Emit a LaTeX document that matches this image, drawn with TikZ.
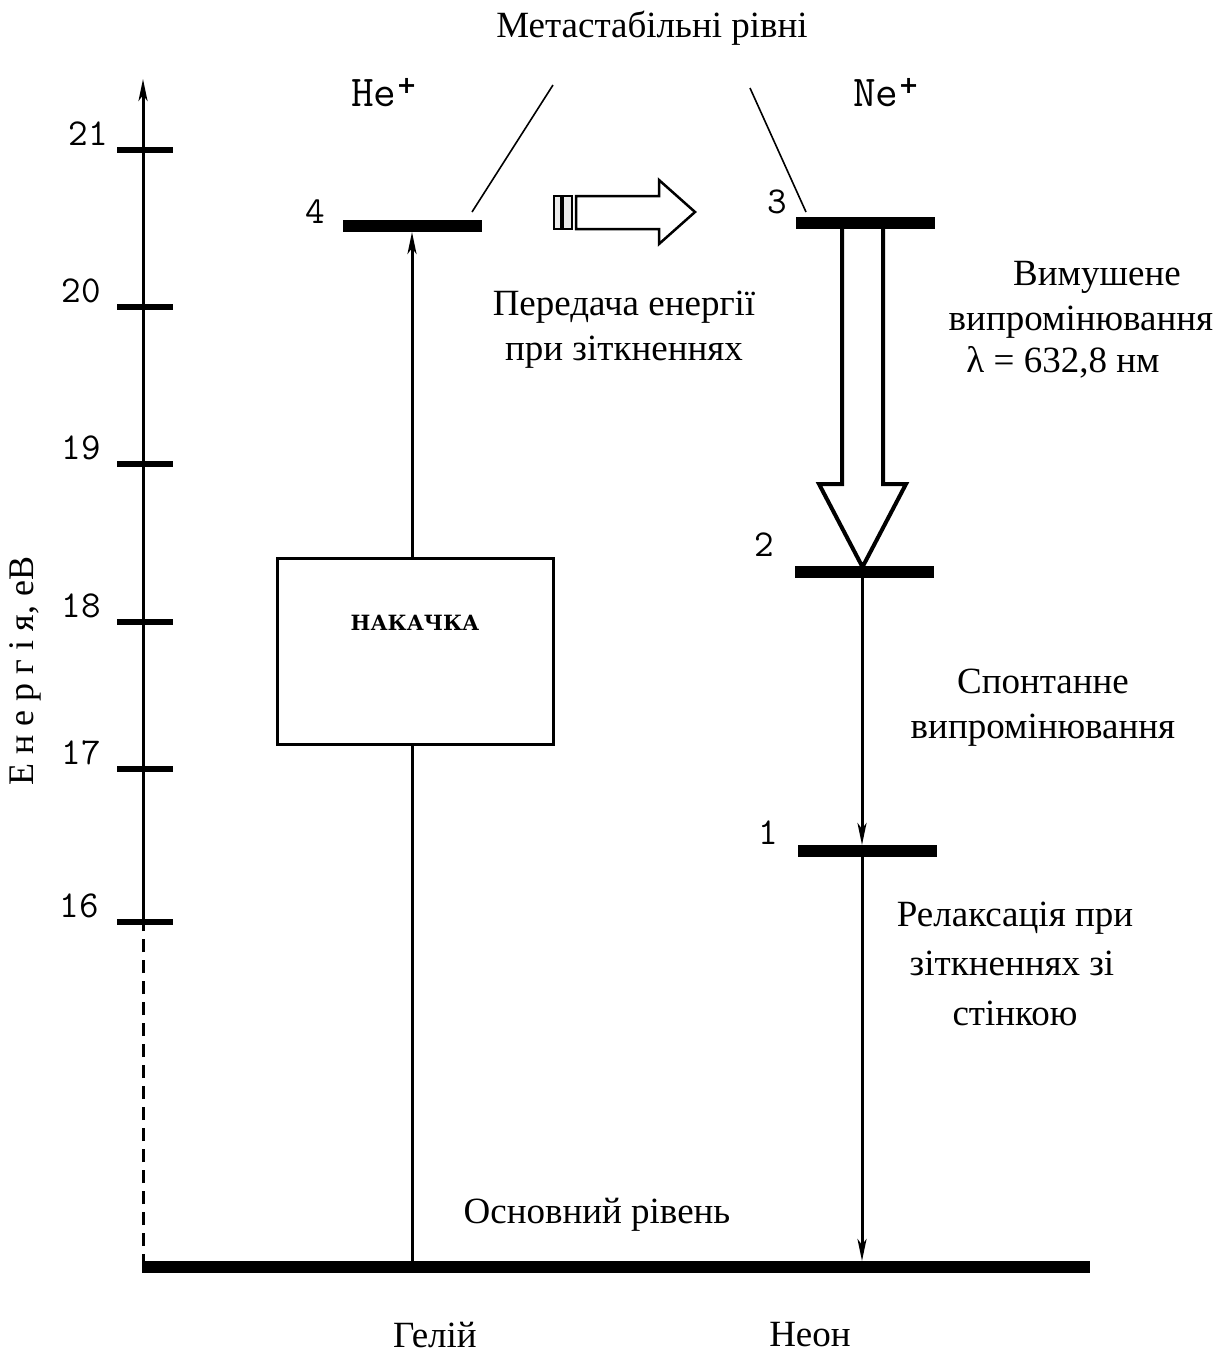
\documentclass[tikz,border=0pt]{standalone}
\usepackage{fontspec}
\setmainfont{Liberation Serif}
\newfontfamily\slabfont{DejaVu Serif}
\newfontfamily\plusfont{DejaVu Sans}
\usetikzlibrary{arrows.meta}
\begin{document}
\begin{tikzpicture}[x=1pt,y=-1pt,
  lvl/.style={line width=12pt},
  ticksty/.style={line width=6pt},
  ser/.style={font=\fontsize{37}{45}\selectfont, align=center, inner sep=0pt},
  mono/.style={font=\ttfamily\fontsize{38}{40}\selectfont, inner sep=0pt},
  bigmono/.style={font=\ttfamily\fontsize{44}{46}\selectfont, inner sep=0pt},
  ln/.style={line width=3pt},
  thin/.style={line width=1.6pt},
  arr/.style={ln,-{Stealth[length=22pt,width=9pt,inset=6pt]}}
]
\useasboundingbox (0,0) rectangle (1215,1361);
% axis
\coordinate (ax0) at (143,1267);
\coordinate (ax16) at (143,922);
\coordinate (axtop) at (143,79);
\draw[ln,dash pattern=on 13pt off 8pt] (ax0) -- (ax16);
\draw[arr] (ax16) -- (axtop);
\foreach \v/\yy/\xx in {21/150/108,20/307/101,19/464/101,18/622/101,17/769/101,16/922/99}{
  \draw[ticksty] (117,\yy) -- (173,\yy);
  \node[mono,anchor=south east] (lab\v) at (\xx,\yy-4) {\v};
}
\node[ser,rotate=90,font=\fontsize{36}{40}\selectfont] (energy) at (25,671) {Е н е р г і я, еВ};
% ground
\coordinate (gl) at (142,1267);
\coordinate (gr) at (1090,1267);
\draw[lvl] (gl) -- (gr);
% helium
\coordinate (he4a) at (343,226);
\coordinate (he4b) at (482,226);
\draw[lvl] (he4a) -- (he4b);
\node[mono] (n4) at (315,212) {4};
\node[draw,line width=3pt,minimum width=276pt,minimum height=186pt,inner sep=0pt] (pump) at (415.5,651) {};
\node[inner sep=0pt,font=\slabfont\bfseries\fontsize{21}{24}\selectfont] (pumptxt) at (415,623) {НАКАЧКА};
\coordinate (heg) at (412,1267);
\coordinate (he4m) at (412,232);
\draw[ln] (heg) -- (heg |- pump.south);
\draw[arr] (he4m |- pump.north) -- (he4m);
\node[bigmono,anchor=base west] (helab) at (351,106) {He\raisebox{13pt}{\plusfont\bfseries\fontsize{24}{24}\selectfont+}};
% neon
\coordinate (ne3a) at (796,223);
\coordinate (ne3b) at (935,223);
\draw[lvl] (ne3a) -- (ne3b);
\node[mono] (n3) at (777,202) {3};
\coordinate (ne2a) at (795,572);
\coordinate (ne2b) at (934,572);
\draw[lvl] (ne2a) -- (ne2b);
\node[mono] (n2) at (764,545) {2};
\coordinate (ne1a) at (798,851);
\coordinate (ne1b) at (937,851);
\draw[lvl] (ne1a) -- (ne1b);
\node[mono] (n1) at (768,833) {1};
\node[bigmono,anchor=base west] (nelab) at (853,106) {Ne\raisebox{13pt}{\plusfont\bfseries\fontsize{24}{24}\selectfont+}};
% big hollow down arrow
\draw[line width=4pt,line join=miter] (842,229) -- (842,484) -- (819,484) -- (862.5,567) -- (906,484) -- (883,484) -- (883,229);
% spontaneous and relaxation arrows
\coordinate (s2) at (862,578);
\coordinate (s1) at (862,845);
\coordinate (s1b) at (862,857);
\coordinate (sg) at (862,1261);
\draw[arr] (s2) -- (s1);
\draw[arr] (s1b) -- (sg);
% transfer arrow
\draw[line width=2pt,fill=black!8] (554,196) rectangle (561,229);
\draw[line width=2pt,fill=black!8] (563,196) rectangle (572,229);
\draw[line width=2.5pt,line join=miter,fill=white] (576,196) -- (659,196) -- (659,180) -- (695,212) -- (659,244) -- (659,229) -- (576,229) -- cycle;
% leaders
\node[ser] (meta) at (652,28) {Метастабільні рівні};
\coordinate (l1a) at (553,85);
\coordinate (l1b) at (472,212);
\coordinate (l2a) at (750,88);
\coordinate (l2b) at (806,212);
\draw[thin] (l1a) -- (l1b);
\draw[thin] (l2a) -- (l2b);
% texts
\node[ser] (transfer) at (624,330) {Передача енергії\\при зіткненнях};
\node[ser] (t1) at (1097,277) {Вимушене};
\node[ser] (t2) at (1081,322) {випромінювання};
\node[ser] (t3) at (1063,362) {λ = 632,8 нм};
\node[ser] (sp) at (1043,708) {Спонтанне\\випромінювання};
\node[ser] (t4) at (1015,918) {Релаксація при};
\node[ser] (t5) at (1012,963) {зіткненнях зі};
\node[ser] (t6) at (1015,1013) {стінкою};
\node[ser] (ground) at (597,1215) {Основний рівень};
\node[ser] (he) at (435,1335) {Гелій};
\node[ser] (ne) at (810,1335) {Неон};
\end{tikzpicture}
\end{document}
